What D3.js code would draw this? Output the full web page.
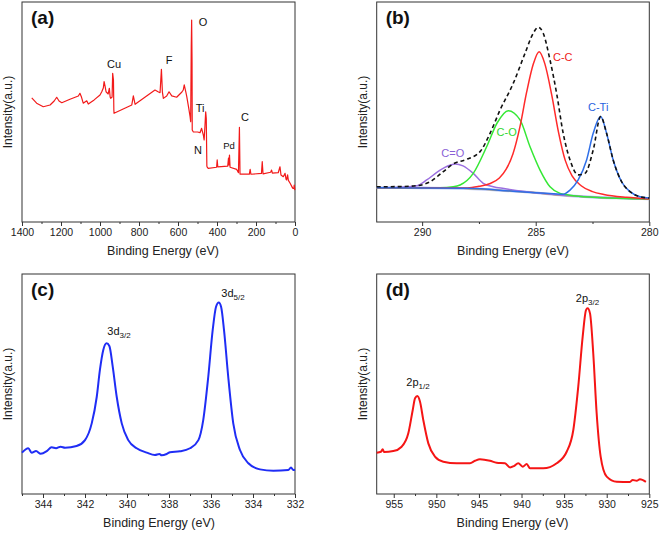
<!DOCTYPE html>
<html><head><meta charset="utf-8">
<script src="https://cdn.jsdelivr.net/npm/d3@7"></script>
<style>
body{margin:0;background:#fff;}
svg{font-family:"Liberation Sans",Arial,Helvetica,sans-serif;}
</style></head>
<body><svg id="c" width="661" height="535"></svg>
<script>
// ---- data (binding energy eV, intensity a.u. 0-100) ----
const surveyXPS = [[1350,56.4],[1325,54.0],[1291,52.4],[1256,53.2],[1235,55.0],[1222,56.7],[1210,55.0],[1196,54.2],[1154,55.8],[1111,57.3],[1103,58.5],[1095,56.8],[1086,54.0],[1068,55.1],[1060,53.6],[1030,55.5],[1000,57.7],[991,59.2],[983,60.9],[979,63.8],[974,61.8],[969,59.2],[958,58.2],[952,60.8],[948,56.8],[945,56.2],[938,56.8],[935,67.6],[931,64.5],[929,51.0],[928,49.4],[837,53.2],[829,57.3],[820,53.5],[718,60.0],[700,59.1],[692,58.8],[685,69.4],[680,59.0],[675,56.2],[658,57.3],[646,59.2],[632,57.3],[607,56.7],[580,59.1],[573,60.0],[568,62.3],[560,59.1],[555,57.0],[545,51.8],[538,47.9],[535,45.6],[532,80.0],[530,91.8],[528,73.0],[527,41.8],[522,41.0],[500,40.9],[487,40.6],[479,42.6],[470,39.5],[466,37.3],[462,43.3],[458,50.1],[455,47.0],[452,25.5],[451,25.1],[445,24.4],[402,24.9],[399,28.2],[396,25.1],[345,25.4],[341,29.1],[339,25.9],[336,30.4],[333,24.9],[299,23.9],[290,22.4],[285,43.0],[282,21.8],[234,21.8],[230,23.9],[226,21.7],[172,22.1],[168,27.4],[164,21.9],[125,22.6],[120,23.6],[116,22.2],[86,22.4],[77,25.1],[72,21.4],[60,20.6],[51,22.1],[46,19.5],[43,19.1],[38,21.4],[34,18.9],[25,17.6],[12,15.4],[6,15.2],[4,16.8],[1,14.5]];
const surveyLabelText = ["O","Cu","F","Ti","N","Pd","C"];
const surveyLabelAt = [[472,89.2],[928,70],[646,71.8],[487,50],[497,30.9],[338,33],[256,45.9]];

const c1sEnvelope = [[292,16.0],[291,16.1],[290.24,16.5],[289.65,18.3],[289.07,22.9],[288.63,26.4],[288.04,28.5],[287.45,32.0],[287.01,40.3],[286.57,50.9],[285.99,63.0],[285.47,76.7],[285.11,85.8],[284.89,88.5],[284.67,85.8],[284.37,73.6],[284.08,58.5],[283.79,40.3],[283.49,28.2],[283.13,21.4],[282.83,22.1],[282.47,32.7],[282.14,47.9],[281.88,40.3],[281.59,28.2],[281.22,18.3],[280.85,13.8],[280.41,11.5],[280,10.9]];
const c1sCC = [[292,15.6],[289,15.5],[288,15.5],[287.5,16.2],[287.0,17.5],[286.6,20],[286.3,24],[286.0,31],[285.7,43],[285.4,59],[285.1,72],[284.85,77.4],[284.6,72],[284.3,58],[284.0,41],[283.7,28],[283.4,21],[283.0,16.5],[282.5,13.8],[282.0,12.5],[281.0,11.2],[280,10.5]];
const c1sCO = [[292,15.6],[290,15.6],[289.2,15.6],[288.63,16.0],[288.33,16.8],[287.75,22.1],[287.16,34.2],[286.7,45.0],[286.21,50.6],[285.69,46.4],[285.25,34.2],[284.81,23.6],[284.37,16.0],[283.93,13.0],[283.5,12.2],[282.5,11.3],[280,10.5]];
const c1sCeqO = [[292,15.6],[291,15.8],[290.24,16.5],[289.8,19.1],[289.21,23.6],[288.85,25.6],[288.55,26.4],[288.2,25.5],[287.75,22.1],[287.31,17.6],[286.87,16.0],[286.4,15.2],[285.5,13.9],[284.5,12.8],[283,11.6],[280,10.5]];
const c1sCTi = [[292,15.6],[288,15.3],[286,14.0],[285,13.3],[284.2,12.8],[283.79,12.6],[283.49,14.5],[283.13,19.1],[282.76,28.2],[282.47,40.3],[282.14,47.9],[281.88,40.3],[281.59,28.2],[281.22,18.3],[280.85,13.8],[280.41,11.5],[280,10.9]];
const c1sBackground = [[292,15.6],[290,15.5],[288.2,15.3],[286.7,14.5],[285.25,13.5],[283.8,12.1],[282.3,11.2],[281,10.8],[280,10.5]];
const c1sLabelText = ["C=O","C-O","C-C","C-Ti"];
const c1sLabelAt = [[288.65,29.7],[286.28,39],[283.81,73],[282.25,50.6]];

const pd3d = [[345,18.8],[344.7,20.8],[344.54,18.8],[344.33,19.5],[344.11,18.3],[343.82,19.5],[343.59,21.2],[343.38,20.8],[343.16,21.5],[342.95,21.0],[342.4,21.8],[342.0,24.5],[341.68,32.1],[341.44,44.2],[341.29,56.4],[341.13,65.5],[340.97,68.5],[340.84,67.3],[340.68,57.9],[340.49,44.2],[340.25,32.1],[339.94,24.5],[339.54,20.8],[339.06,18.8],[338.67,17.7],[338.46,18.2],[338.35,17.6],[338.11,18.2],[337.95,19.0],[337.48,19.4],[337.0,20.8],[336.6,24.5],[336.37,33.6],[336.13,53.3],[335.92,74.5],[335.76,85.1],[335.63,87.0],[335.52,85.1],[335.38,74.5],[335.18,53.3],[334.94,32.1],[334.62,20.0],[334.22,14.0],[333.67,11.2],[333.03,10.6],[332.32,10.9],[332.19,12.1],[332.08,10.9],[332,11.0]];
const pd3dLabelAt = [[340.38,72.3,"3/2"],[334.95,89.4,"5/2"]];
const cu2p = [[957,18.8],[956.5,19.2],[956.3,20.3],[956.14,19.1],[955.05,19.5],[954.07,21.5],[953.29,27.6],[952.77,38.2],[952.5,43.5],[952.23,44.5],[951.92,42.0],[951.53,33.6],[950.94,23.0],[950.16,17.0],[949.18,14.7],[947.61,14.0],[946.05,14.0],[945.46,15.1],[944.88,15.8],[943.7,15.1],[942.92,14.2],[941.94,14.0],[941.35,12.1],[940.89,12.7],[940.38,14.0],[939.86,12.4],[939.39,13.6],[939.0,11.7],[937.45,11.7],[935.87,14.0],[934.7,19.2],[933.92,29.1],[933.34,48.8],[932.82,71.5],[932.43,83.6],[932.24,84.4],[931.96,82.1],[931.58,64.0],[931.18,36.7],[930.71,17.0],[930.0,7.9],[928.83,5.6],[927.27,5.5],[926.95,6.4],[926.48,6.0],[926.1,6.7],[925.4,5.5]];
const cu2pLabelAt = [[952.15,49.2,"1/2"],[932.26,87.1,"3/2"]];

const ticksA = [1400,1200,1000,800,600,400,200,0];
const minorA = [1300,1100,900,700,500,300,100];
const ticksB = [290,285,280];
const minorB = [287.5,282.5];
const ticksC = [344,342,340,338,336,334,332];
const minorC = [345,343,341,339,337,335,333];
const ticksD = [955,950,945,940,935,930,925];
const minorD = [952.5,947.5,942.5,937.5,932.5,927.5];

// ---- drawing ----
const svg = d3.select("#c");
const panels = [
  {tag:"(a)", l:22, r:295, t:2, b:222, dom:[1400,0], ticks:ticksA, minor:minorA, xt:163},
  {tag:"(b)", l:376.7, r:649.3, t:2, b:222, dom:[292,280], ticks:ticksB, minor:minorB, xt:513},
  {tag:"(c)", l:22, r:295, t:274, b:494, dom:[345,332], ticks:ticksC, minor:minorC, xt:159},
  {tag:"(d)", l:376.7, r:649.3, t:274, b:494, dom:[957,925], ticks:ticksD, minor:minorD, xt:512.5}
];
panels.forEach(p=>{
  p.x = d3.scaleLinear().domain(p.dom).range([p.l,p.r]);
  p.y = d3.scaleLinear().domain([0,100]).range([p.b,p.t]);
  const g = svg.append("g");
  p.g = g;
  g.append("g").attr("transform",`translate(0,${p.b})`)
    .call(d3.axisBottom(p.x).tickValues(p.minor).tickSize(2).tickSizeOuter(0).tickFormat(""))
    .call(s=>s.select(".domain").remove())
    .call(s=>s.selectAll("line").attr("stroke","#333"));
  const ax = g.append("g").attr("transform",`translate(0,${p.b})`)
    .call(d3.axisBottom(p.x).tickValues(p.ticks).tickSize(4).tickSizeOuter(0).tickPadding(3).tickFormat(d3.format("d")));
  ax.select(".domain").remove();
  ax.selectAll("line").attr("stroke","#333");
  ax.selectAll("text").attr("font-size","10.5px").attr("fill","#222").attr("font-family","'Liberation Sans',Arial,sans-serif");
  g.append("rect").attr("x",p.l).attr("y",p.t).attr("width",p.r-p.l).attr("height",p.b-p.t)
    .attr("fill","none").attr("stroke","#333").attr("stroke-width",1);
  g.append("text").attr("x",p.xt).attr("y",p.b+33).attr("text-anchor","middle")
    .attr("font-size","12.5px").attr("fill","#222").text("Binding Energy (eV)");
  const yc = (p.t+p.b)/2;
  g.append("text").attr("transform",`translate(${p.l-10},${yc}) rotate(-90)`).attr("text-anchor","middle")
    .attr("font-size","12px").attr("fill","#222").text("Intensity(a.u.)");
  g.append("text").attr("x",p.l+9).attr("y",p.t+22).attr("font-size","19px").attr("font-weight","bold")
    .attr("fill","#111").text(p.tag);
});
function line(p, data, color, w, curve, dash){
  const gen = d3.line().x(d=>p.x(d[0])).y(d=>p.y(d[1])).curve(curve||d3.curveLinear);
  const path = p.g.append("path").datum(data).attr("d",gen).attr("fill","none")
    .attr("stroke",color).attr("stroke-width",w).attr("stroke-linejoin","round");
  if(dash) path.attr("stroke-dasharray",dash);
  return path;
}
// (a)
const pa = panels[0];
line(pa, surveyXPS, "#f21a1a", 1.2);
surveyLabelText.forEach((t,i)=>{
  pa.g.append("text").attr("x",pa.x(surveyLabelAt[i][0])).attr("y",pa.y(surveyLabelAt[i][1]))
    .attr("text-anchor","middle").attr("font-size",(t==="Pd"?9.5:11)+"px").attr("fill","#111").text(t);
});
// (b)
const pb = panels[1];
const mono = d3.curveMonotoneX;
line(pb, c1sBackground, "#b4c2f2", 2.6, mono);
line(pb, c1sBackground, "#d6a01e", 1.4, mono);
line(pb, c1sCeqO, "#9b6fe0", 1.5, mono);
line(pb, c1sCO, "#35e835", 1.5, mono);
line(pb, c1sCC, "#ff2a2a", 1.5, mono);
line(pb, c1sCTi, "#2f6fe8", 1.5, mono);
line(pb, c1sEnvelope, "#111", 1.6, mono, "4,3");
const bColors = ["#8a5fd6","#2ed82e","#ee2020","#2a62e0"];
c1sLabelText.forEach((t,i)=>{
  pb.g.append("text").attr("x",pb.x(c1sLabelAt[i][0])).attr("y",pb.y(c1sLabelAt[i][1])).attr("text-anchor","middle")
    .attr("font-size","11px").attr("fill",bColors[i]).text(t);
});
function subLabel(p, e, v, main, sub){
  const t = p.g.append("text").attr("x",p.x(e)).attr("y",p.y(v)).attr("text-anchor","middle")
    .attr("font-size","11px").attr("fill","#111");
  t.append("tspan").text(main);
  t.append("tspan").attr("font-size","8px").attr("dy",3).text(sub);
}
// (c)
const pc = panels[2];
line(pc, pd3d, "#1f2df5", 2, mono);
pd3dLabelAt.forEach(d=>subLabel(pc, d[0], d[1], "3d", d[2]));
// (d)
const pd = panels[3];
line(pd, cu2p, "#f51515", 2, mono);
cu2pLabelAt.forEach(d=>subLabel(pd, d[0], d[1], "2p", d[2]));
</script></body></html>
